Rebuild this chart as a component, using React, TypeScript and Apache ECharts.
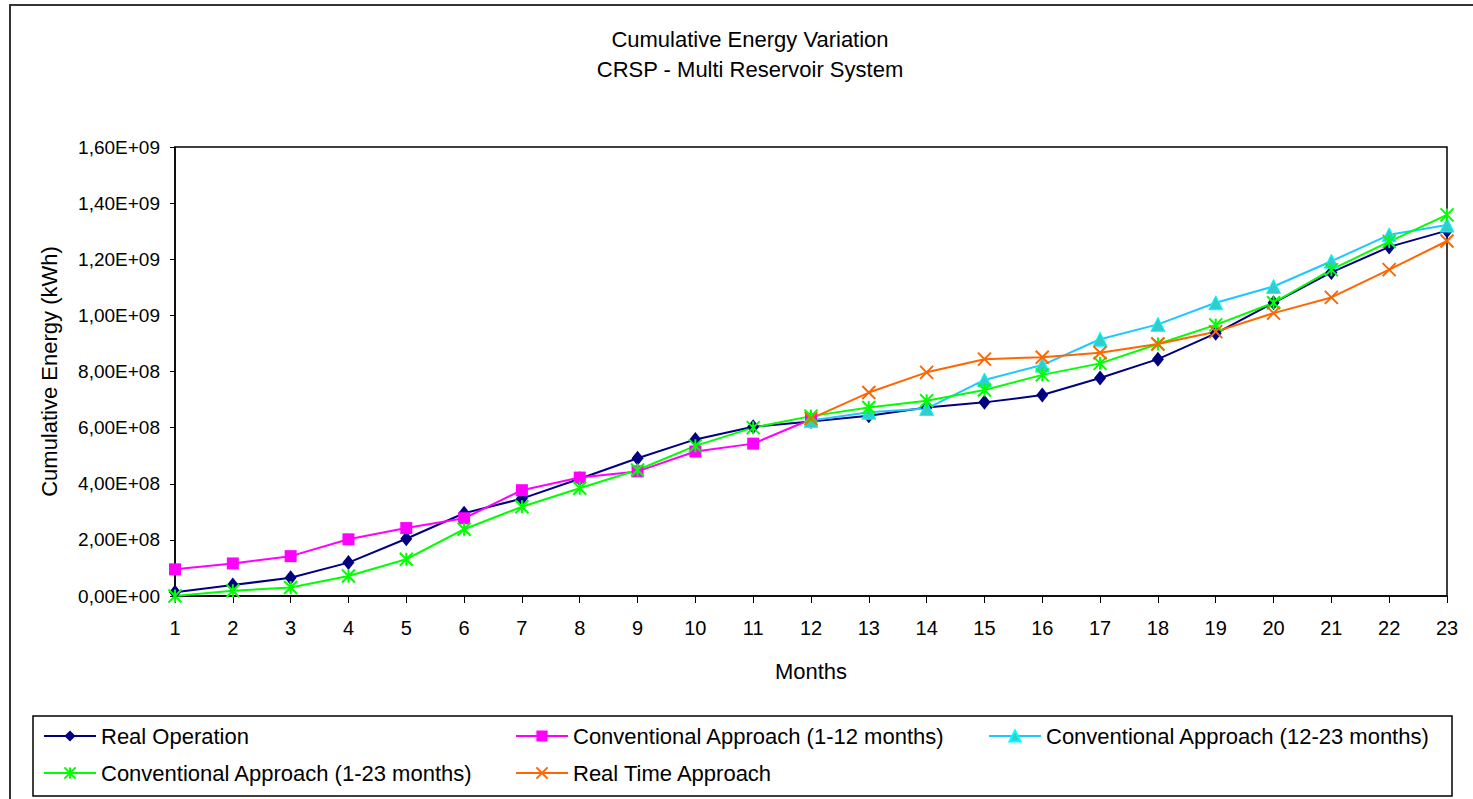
import React, { useEffect, useRef } from "react";
import * as echarts from "echarts";

// Month numbers along the x axis
const months = ["1","2","3","4","5","6","7","8","9","10","11","12","13","14","15","16","17","18","19","20","21","22","23"];

// Cumulative energy (kWh) for each approach
const realOperation = [1.3e7, 3.9e7, 6.5e7, 1.19e8, 2.04e8, 2.95e8, 3.47e8, 4.18e8, 4.91e8, 5.58e8, 6.03e8, 6.22e8, 6.42e8, 6.72e8, 6.9e8, 7.16e8, 7.77e8, 8.44e8, 9.36e8, 1.045e9, 1.153e9, 1.244e9, 1.302e9];
const conventional1to12 = [9.5e7, 1.16e8, 1.42e8, 2.02e8, 2.42e8, 2.77e8, 3.77e8, 4.22e8, 4.44e8, 5.15e8, 5.43e8, 6.3e8, null, null, null, null, null, null, null, null, null, null, null];
const conventional12to23 = [null, null, null, null, null, null, null, null, null, null, null, 6.25e8, 6.55e8, 6.68e8, 7.7e8, 8.23e8, 9.15e8, 9.68e8, 1.045e9, 1.103e9, 1.193e9, 1.287e9, 1.322e9];
const conventional1to23 = [0, 1.9e7, 3.0e7, 7.1e7, 1.31e8, 2.38e8, 3.18e8, 3.84e8, 4.49e8, 5.35e8, 6.0e8, 6.41e8, 6.72e8, 6.96e8, 7.34e8, 7.88e8, 8.29e8, 8.98e8, 9.66e8, 1.045e9, 1.163e9, 1.263e9, 1.358e9];
const realTime = [null, null, null, null, null, null, null, null, null, null, null, 6.32e8, 7.25e8, 7.97e8, 8.44e8, 8.51e8, 8.67e8, 8.98e8, 9.42e8, 1.008e9, 1.064e9, 1.163e9, 1.265e9];

const FONT = "Liberation Sans, Arial, sans-serif";

// Excel-style scientific notation with a decimal comma, e.g. 1,60E+09
function sci(v: number): string {
  if (v === 0) return "0,00E+00";
  const exp = Math.floor(Math.log10(v));
  const mant = v / Math.pow(10, exp);
  return mant.toFixed(2).replace(".", ",") + "E+" + String(exp).padStart(2, "0");
}

const starPath = "path://M0,0L10,10M10,0L0,10M5,0L5,10";
const crossPath = "path://M0,0L10,10M10,0L0,10";

export default function App() {
  const ref = useRef<HTMLDivElement>(null);

  useEffect(() => {
    if (!ref.current) return;
    const chart = echarts.init(ref.current, null, { renderer: "svg" });
    const legendText = { fontFamily: FONT, fontSize: 22, color: "#000" };
    const legendBase = {
      top: 725, orient: "vertical", itemGap: 15, itemWidth: 52, itemHeight: 14,
      padding: 0, height: 120, textStyle: legendText,
    };
    chart.setOption({
      animation: false,
      backgroundColor: "#fff",
      textStyle: { fontFamily: FONT },
      title: {
        text: "Cumulative Energy Variation\nCRSP - Multi Reservoir System",
        left: 745,
        top: 19,
        textAlign: "center",
        textStyle: { fontFamily: FONT, fontSize: 22, fontWeight: "normal", color: "#000", lineHeight: 30 },
      },
      graphic: [
        {
          type: "rect",
          shape: { x: 10, y: 5, width: 1500, height: 900 },
          style: { fill: "none", stroke: "#333", lineWidth: 2 },
          silent: true,
        },
        {
          type: "rect",
          shape: { x: 33, y: 716, width: 1419, height: 80 },
          style: { fill: "none", stroke: "#000", lineWidth: 1.5 },
          silent: true,
        },
      ],
      legend: [
        { ...legendBase, left: 43, data: ["Real Operation", "Conventional Approach (1-23 months)"] },
        { ...legendBase, left: 515, data: ["Conventional Approach (1-12 months)", "Real Time Approach"] },
        { ...legendBase, left: 988, data: ["Conventional Approach (12-23 months)"] },
      ],
      grid: {
        left: 175, right: 26, top: 147, bottom: 203,
        show: true, borderColor: "#000", borderWidth: 1.5, backgroundColor: "transparent",
      },
      xAxis: {
        type: "category",
        data: months,
        boundaryGap: false,
        name: "Months",
        nameLocation: "middle",
        nameGap: 64,
        nameTextStyle: { fontFamily: FONT, fontSize: 22, color: "#000" },
        axisLine: { lineStyle: { color: "#000", width: 1.5 } },
        axisTick: { show: true, length: 7, lineStyle: { color: "#000" } },
        axisLabel: { fontFamily: FONT, fontSize: 20, color: "#000", margin: 22 },
        splitLine: { show: false },
      },
      yAxis: {
        type: "value",
        min: 0,
        max: 1.6e9,
        interval: 2e8,
        name: "Cumulative Energy (kWh)",
        nameLocation: "middle",
        nameGap: 115,
        nameTextStyle: { fontFamily: FONT, fontSize: 22, color: "#000" },
        axisLine: { show: true, lineStyle: { color: "#000", width: 1.5 } },
        axisTick: { show: true, length: 5, lineStyle: { color: "#000" } },
        axisLabel: { fontFamily: FONT, fontSize: 19, color: "#000", margin: 15, formatter: sci },
        splitLine: { show: false },
      },
      series: [
        {
          name: "Real Operation",
          type: "line",
          data: realOperation,
          symbol: "diamond",
          symbolSize: [12, 15],
          lineStyle: { color: "#000080", width: 2 },
          itemStyle: { color: "#000080" },
        },
        {
          name: "Conventional Approach (1-12 months)",
          type: "line",
          data: conventional1to12,
          symbol: "rect",
          symbolSize: 12,
          lineStyle: { color: "#FF00FF", width: 2 },
          itemStyle: { color: "#FF00FF" },
        },
        {
          name: "Conventional Approach (12-23 months)",
          type: "line",
          data: conventional12to23,
          symbol: "triangle",
          symbolSize: 14,
          lineStyle: { color: "#1CC8FF", width: 2 },
          itemStyle: { color: "#33CCCC", borderColor: "#00FFFF", borderWidth: 1 },
        },
        {
          name: "Conventional Approach (1-23 months)",
          type: "line",
          data: conventional1to23,
          symbol: starPath,
          symbolSize: 13,
          lineStyle: { color: "#00FF00", width: 2 },
          itemStyle: { color: "#00FF00", borderColor: "#00FF00", borderWidth: 2 },
        },
        {
          name: "Real Time Approach",
          type: "line",
          data: realTime,
          symbol: crossPath,
          symbolSize: 13,
          lineStyle: { color: "#FF6600", width: 2 },
          itemStyle: { color: "#FF6600", borderColor: "#FF6600", borderWidth: 2 },
        },
      ],
    });
    return () => chart.dispose();
  }, []);

  return (
    <div
      ref={ref}
      style={{ position: "fixed", left: 0, top: 0, width: 1473, height: 799, background: "#fff" }}
    />
  );
}
